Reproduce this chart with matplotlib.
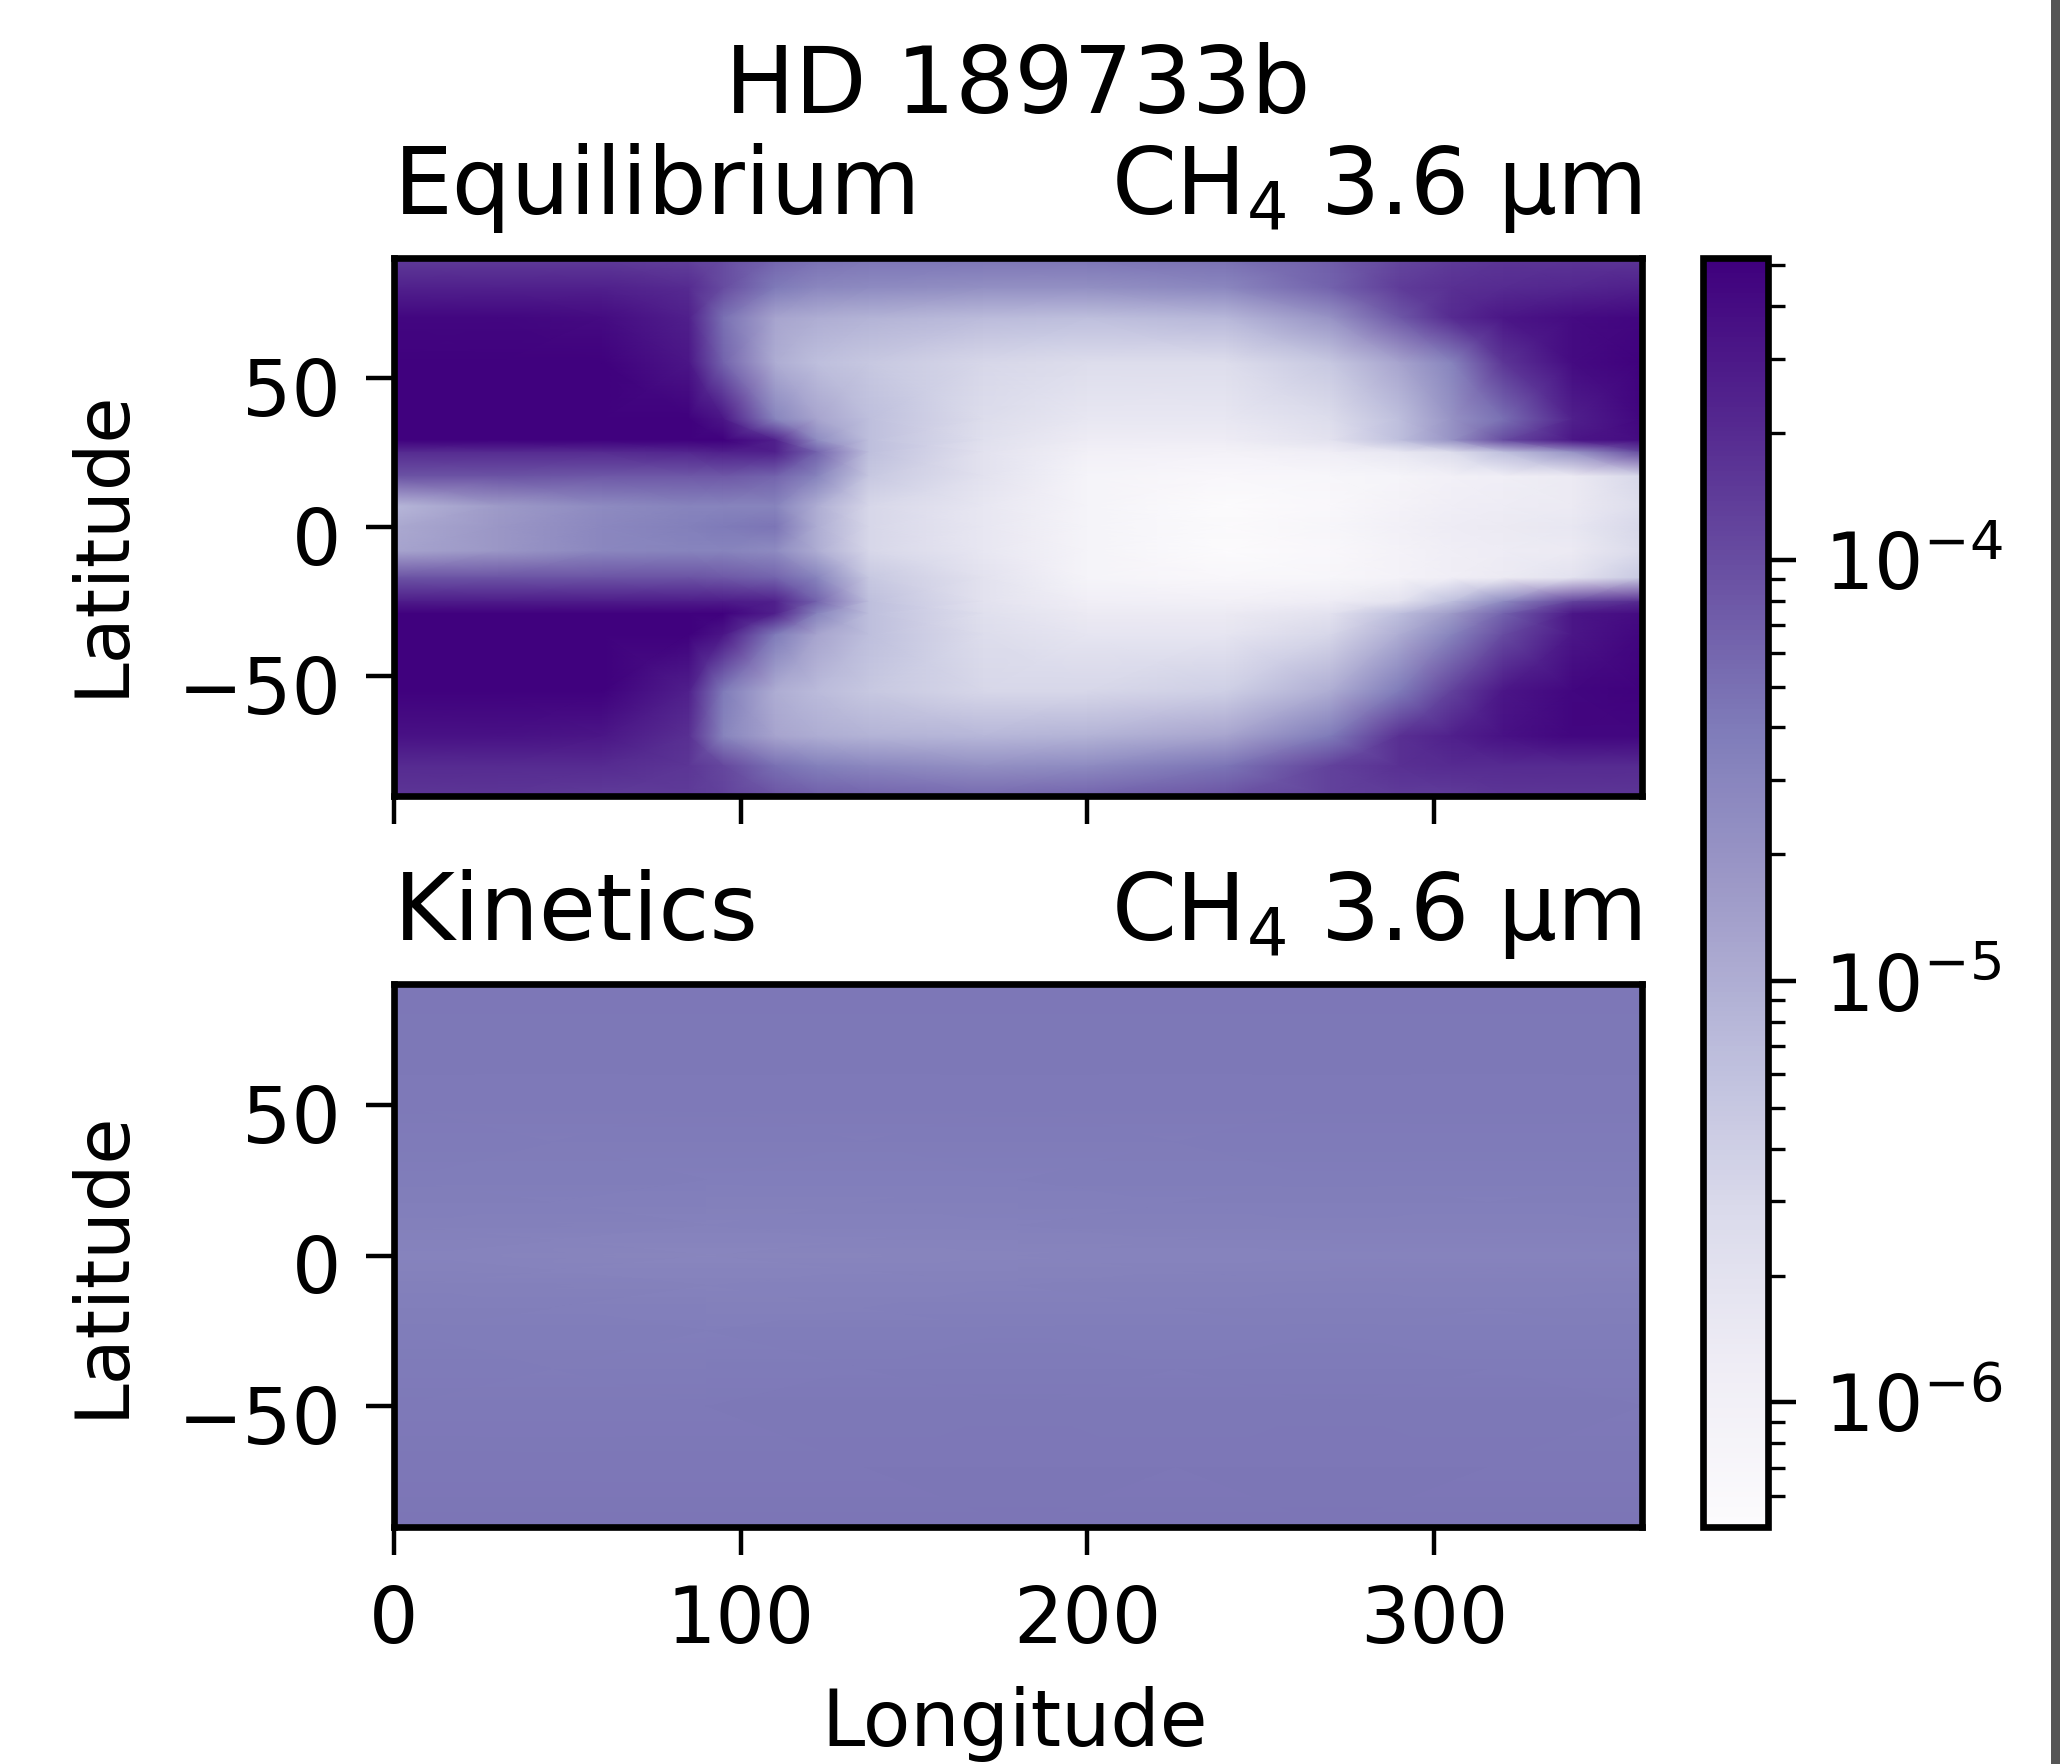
import numpy as np
import matplotlib
matplotlib.use('Agg')
import matplotlib.pyplot as plt
from matplotlib.colors import LogNorm
from matplotlib.patches import Rectangle
from matplotlib.transforms import ScaledTranslation

# values are log10 of the mapped quantity
lon = [0, 30, 60, 85, 95, 110, 122, 137, 170, 200, 240, 270, 290, 305, 320, 340, 360]
lat = [90, 80, 70, 55, 36, 29, 25, 17, 7, 0, -8, -17, -25, -29, -36, -55, -70, -80, -90]

eq_log = [
    [-3.85, -3.85, -3.85, -3.9, -4.0, -4.2, -4.3, -4.35, -4.35, -4.35, -4.3, -4.15, -3.95, -3.85, -3.8, -3.8, -3.8],
    [-3.6, -3.6, -3.6, -3.7, -4.0, -4.4, -4.55, -4.6, -4.65, -4.65, -4.55, -4.2, -3.85, -3.75, -3.7, -3.65, -3.6],
    [-3.35, -3.35, -3.4, -3.6, -4.3, -4.9, -5.0, -5.05, -5.15, -5.2, -5.1, -4.7, -4.1, -3.7, -3.5, -3.4, -3.35],
    [-3.3, -3.3, -3.3, -3.5, -4.2, -5.0, -5.2, -5.3, -5.5, -5.6, -5.6, -5.3, -4.9, -4.5, -3.8, -3.4, -3.3],
    [-3.3, -3.3, -3.3, -3.3, -3.5, -4.5, -4.9, -5.2, -5.6, -5.8, -5.8, -5.6, -5.2, -4.7, -4.3, -3.6, -3.35],
    [-3.3, -3.3, -3.3, -3.3, -3.3, -3.6, -4.6, -5.2, -5.65, -5.9, -5.9, -5.7, -5.2, -4.7, -4.0, -3.5, -3.4],
    [-3.7, -3.7, -3.7, -3.65, -3.6, -3.6, -4.2, -5.2, -5.7, -6.0, -6.05, -5.95, -5.8, -5.6, -5.2, -4.7, -4.0],
    [-4.05, -4.05, -4.1, -4.1, -4.1, -4.2, -4.5, -5.3, -5.7, -6.1, -6.2, -6.15, -6.1, -6.0, -5.95, -5.85, -5.5],
    [-5.1, -4.8, -4.6, -4.5, -4.5, -4.5, -5.0, -5.5, -5.8, -6.1, -6.28, -6.2, -6.05, -5.95, -5.9, -5.85, -5.6],
    [-4.95, -4.75, -4.55, -4.45, -4.4, -4.35, -5.0, -5.5, -5.8, -6.1, -6.25, -6.15, -6.0, -5.9, -5.85, -5.8, -5.5],
    [-4.9, -4.75, -4.55, -4.5, -4.5, -4.6, -5.0, -5.5, -5.8, -6.1, -6.28, -6.2, -6.05, -5.95, -5.9, -5.85, -5.55],
    [-4.05, -4.05, -4.05, -4.05, -4.1, -4.2, -4.5, -5.3, -5.7, -6.1, -6.2, -6.15, -6.05, -5.95, -5.85, -5.7, -5.3],
    [-3.55, -3.55, -3.55, -3.55, -3.55, -3.6, -4.2, -5.2, -5.7, -5.95, -6.0, -5.9, -5.7, -5.2, -4.6, -3.9, -3.7],
    [-3.3, -3.3, -3.3, -3.3, -3.3, -3.6, -4.5, -5.2, -5.65, -5.85, -5.85, -5.7, -5.2, -4.8, -4.2, -3.5, -3.4],
    [-3.3, -3.3, -3.3, -3.3, -3.5, -4.4, -4.9, -5.2, -5.6, -5.75, -5.75, -5.5, -5.0, -4.5, -4.0, -3.5, -3.35],
    [-3.3, -3.3, -3.3, -3.6, -4.4, -5.0, -5.15, -5.3, -5.5, -5.5, -5.4, -5.0, -4.4, -3.9, -3.5, -3.35, -3.3],
    [-3.45, -3.45, -3.5, -3.75, -4.5, -4.9, -5.0, -5.05, -5.1, -5.05, -4.9, -4.4, -3.75, -3.6, -3.45, -3.35, -3.35],
    [-3.7, -3.7, -3.7, -3.8, -3.95, -4.3, -4.45, -4.55, -4.65, -4.6, -4.35, -3.9, -3.75, -3.7, -3.7, -3.7, -3.7],
    [-3.8, -3.8, -3.85, -3.85, -3.9, -4.05, -4.15, -4.2, -4.25, -4.2, -4.05, -3.9, -3.85, -3.85, -3.8, -3.8, -3.8],
]

kin_lon = [0, 90, 180, 270, 360]
kin_lat = [90, 50, 25, 10, 0, -10, -25, -50, -90]
kin_log = [
    [-4.36, -4.36, -4.36, -4.36, -4.36],
    [-4.38, -4.38, -4.38, -4.38, -4.38],
    [-4.42, -4.43, -4.43, -4.42, -4.42],
    [-4.46, -4.48, -4.47, -4.46, -4.46],
    [-4.49, -4.53, -4.50, -4.49, -4.49],
    [-4.46, -4.48, -4.47, -4.46, -4.46],
    [-4.42, -4.43, -4.42, -4.42, -4.42],
    [-4.38, -4.38, -4.37, -4.37, -4.38],
    [-4.35, -4.35, -4.35, -4.35, -4.35],
]

yticks = [-50, 0, 50]
xticks = [0, 100, 200, 300]
vmin = 5.06e-7
vmax = 5.2e-4

W, H = 2060, 1764
fs = 28
title_fs = 33.5

fig = plt.figure(figsize=(10.3, 8.82), dpi=200)
ax1 = fig.add_axes([394/W, 1 - 796/H, (1642-394)/W, (796-258)/H])
ax2 = fig.add_axes([394/W, 1 - 1527/H, (1642-394)/W, (1527-984)/H])
cax = fig.add_axes([1703/W, 1 - 1527/H, (1768-1703)/W, (1527-258)/H])

norm = LogNorm(vmin=vmin, vmax=vmax)
mesh = ax1.pcolormesh(lon, lat, 10.0**np.array(eq_log), cmap='Purples', norm=norm, shading='gouraud')
ax2.pcolormesh(kin_lon, kin_lat, 10.0**np.array(kin_log), cmap='Purples', norm=norm, shading='gouraud')

for ax, name, ylab_y in zip([ax1, ax2], ['Equilibrium', 'Kinetics'], [0.47, 0.485]):
    ax.set_xlim(0, 360)
    ax.set_ylim(-90, 90)
    ax.set_xticks(xticks)
    ax.set_yticks(yticks)
    ax.set_ylabel('Latitude', fontsize=fs - 1, labelpad=14, y=ylab_y)
    ax.tick_params(labelsize=fs, width=1.6, length=10, pad=9)
    ax.tick_params(axis='x', pad=10)
    ax.set_title(name, loc='left', fontsize=title_fs, pad=16)
    ax.set_title('CH$_4$ 3.6 µm', loc='right', fontsize=title_fs, pad=16)
    for s in ax.spines.values():
        s.set_linewidth(2.4)
    # the y tick labels sit a little below their ticks in the reference
    for label in ax.get_yticklabels():
        label.set_transform(label.get_transform() + ScaledTranslation(0, -0.04, fig.dpi_scale_trans))

ax1.tick_params(labelbottom=False)
ax2.set_xlabel('Longitude', fontsize=fs, labelpad=10, x=0.497)

cb = fig.colorbar(mesh, cax=cax)
cb.ax.tick_params(which='major', labelsize=fs, width=1.6, length=10, pad=10)
cb.ax.tick_params(which='minor', width=1.2, length=6)
cb.outline.set_linewidth(2.4)

fig.text(1018/W, 1 - 87/H, 'HD 189733b', fontsize=title_fs, ha='center', va='center')

# grey strip down the right edge of the picture
fig.add_artist(Rectangle((2051/W, 0), 9/W, 1, transform=fig.transFigure, color='#555555', lw=0))

fig.savefig('out.png', dpi=200)
